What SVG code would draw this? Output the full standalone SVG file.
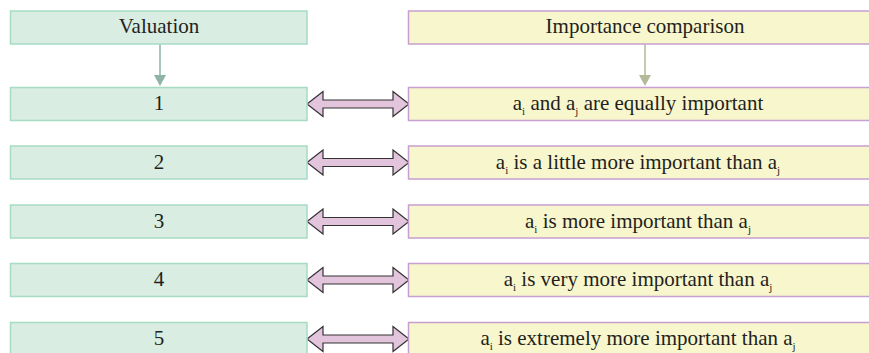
<svg xmlns="http://www.w3.org/2000/svg" width="869" height="353" viewBox="0 0 869 353" font-family="'Liberation Serif', 'DejaVu Serif', serif">
<style>
.l{fill:#d9ede2;stroke:#a6dbc4;stroke-width:1.5}
.r{fill:#f8f6cc;stroke:#c79fd0;stroke-width:1.5}
.t{font-family:'Liberation Serif','DejaVu Serif',serif;font-size:21px;fill:#231f20;text-anchor:middle}
.s{font-size:11px}
.da{fill:#e2c4dd;stroke:#333;stroke-width:1.2;stroke-linejoin:miter}
</style>
<defs>
<path id="dbl" class="da" d="M307,0 L323,-12.5 L323,-4 L393,-4 L393,-12.5 L409,0 L393,12.5 L393,4 L323,4 L323,12.5 Z"/>
</defs>
<g id="connectors">
<line x1="160" y1="44" x2="160" y2="76" stroke="#8fb3a6" stroke-width="1.5"/>
<polygon points="154,75 166,75 160,86" fill="#8fb3a6"/>
<line x1="645" y1="44" x2="645" y2="76" stroke="#b5b99a" stroke-width="1.5"/>
<polygon points="639,75 651,75 645,86" fill="#b5b99a"/>
<use href="#dbl" transform="translate(0,104)"/>
<use href="#dbl" transform="translate(0,162.5)"/>
<use href="#dbl" transform="translate(0,221.5)"/>
<use href="#dbl" transform="translate(0,280)"/>
<use href="#dbl" transform="translate(0,339)"/>
</g>
<g id="h-left"><rect class="l" x="10.5" y="11" width="296.5" height="33"/><text class="t" x="159" y="33">Valuation</text></g>
<g id="h-right"><rect class="r" x="408.5" y="11" width="474" height="33"/><text class="t" x="645" y="33">Importance comparison</text></g>
<g id="v1"><rect class="l" x="10.5" y="87.5" width="296.5" height="33"/><text class="t" x="159" y="110">1</text></g>
<g id="v2"><rect class="l" x="10.5" y="146" width="296.5" height="33"/><text class="t" x="159" y="168.5">2</text></g>
<g id="v3"><rect class="l" x="10.5" y="205" width="296.5" height="33"/><text class="t" x="159" y="227.5">3</text></g>
<g id="v4"><rect class="l" x="10.5" y="263.5" width="296.5" height="33"/><text class="t" x="159" y="286">4</text></g>
<g id="v5"><rect class="l" x="10.5" y="322.5" width="296.5" height="33"/><text class="t" x="159" y="345">5</text></g>
<g id="c1"><rect class="r" x="408.5" y="87.5" width="474" height="33"/><text class="t" x="638" y="110">a<tspan class="s" dy="5">i</tspan><tspan dy="-5"> and a</tspan><tspan class="s" dy="5">j</tspan><tspan dy="-5"> are equally important</tspan></text></g>
<g id="c2"><rect class="r" x="408.5" y="146" width="474" height="33"/><text class="t" x="638" y="168.5">a<tspan class="s" dy="5">i</tspan><tspan dy="-5"> is a little more important than a</tspan><tspan class="s" dy="5">j</tspan></text></g>
<g id="c3"><rect class="r" x="408.5" y="205" width="474" height="33"/><text class="t" x="638" y="227.5">a<tspan class="s" dy="5">i</tspan><tspan dy="-5"> is more important than a</tspan><tspan class="s" dy="5">j</tspan></text></g>
<g id="c4"><rect class="r" x="408.5" y="263.5" width="474" height="33"/><text class="t" x="638" y="286">a<tspan class="s" dy="5">i</tspan><tspan dy="-5"> is very more important than a</tspan><tspan class="s" dy="5">j</tspan></text></g>
<g id="c5"><rect class="r" x="408.5" y="322.5" width="474" height="33"/><text class="t" x="638" y="345">a<tspan class="s" dy="5">i</tspan><tspan dy="-5"> is extremely more important than a</tspan><tspan class="s" dy="5">j</tspan></text></g>
</svg>
